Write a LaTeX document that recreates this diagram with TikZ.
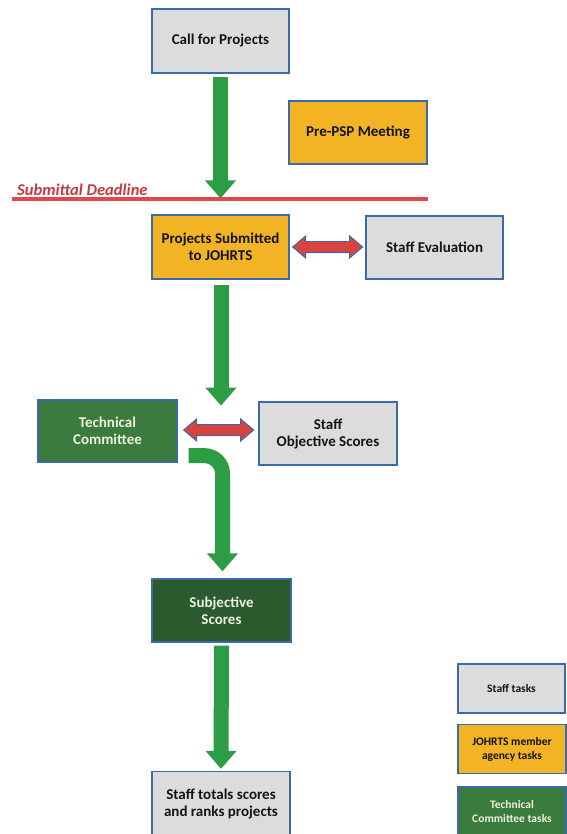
\documentclass[tikz,border=0pt]{standalone}
\usepackage{fontspec}
\setmainfont{Carlito}
\usetikzlibrary{arrows.meta,calc}
\definecolor{boxgray}{HTML}{DCDCDC}
\definecolor{boxblue}{HTML}{3A6AA8}
\definecolor{boxorange}{HTML}{F2B325}
\definecolor{tcgreen}{HTML}{3B7B3D}
\definecolor{ssgreen}{HTML}{2B5A2F}
\definecolor{arrgreen}{HTML}{2C9C45}
\definecolor{arrred}{HTML}{D9433F}
\definecolor{lineRed}{HTML}{E2474A}
\definecolor{lighttext}{HTML}{EEF2DC}
\tikzset{
  box/.style={draw=boxblue, line width=1.3pt, align=center, font=\bfseries\fontsize{15}{17}\selectfont, inner sep=2pt},
  graybox/.style={box, fill=boxgray, text=black!92},
  orangebox/.style={box, fill=boxorange, text=black!92},
  greenbox/.style={box, fill=tcgreen, text=lighttext},
  legend/.style={font=\bfseries\fontsize{11.5}{14}\selectfont},
  garrow/.style={draw=arrgreen, line width=15pt, -{Triangle[width=30pt,length=18pt]}},
  rarrow/.style={fill=arrred, draw=boxblue, line width=1pt, line join=miter},
}
\begin{document}
\begin{tikzpicture}[x=1pt,y=-1pt]
\useasboundingbox (0,0) rectangle (566,834);
\node[graybox, minimum width=137pt, minimum height=64pt] (cfp) at (220.5,41) {Call for Projects};
\node[orangebox, minimum width=138pt, minimum height=63pt] (pre) at (358,132.5) {Pre-PSP Meeting};
\node[orangebox, minimum width=137pt, minimum height=64pt] (ps) at (220.5,247) {Projects Submitted\\to JOHRTS};
\node[graybox, minimum width=137pt, minimum height=63pt] (se) at (434.5,247.5) {Staff Evaluation};
\node[greenbox, minimum width=139pt, minimum height=62pt] (tc) at (107.5,431) {Technical\\Committee};
\node[graybox, minimum width=138pt, minimum height=63pt] (sos) at (328,433.5) {Staff\\Objective Scores};
\node[greenbox, fill=ssgreen, minimum width=139pt, minimum height=63pt] (ss) at (221.5,610.5) {Subjective\\Scores};
\node[graybox, minimum width=138pt, minimum height=64pt] (st) at (221,803.5) {Staff totals scores\\and ranks projects};
% legend
\node[graybox, legend, minimum width=107pt, minimum height=49pt] (l1) at (511.5,688.5) {Staff tasks};
\node[orangebox, legend, minimum width=108pt, minimum height=49pt] (l2) at (512,749) {JOHRTS member\\agency tasks};
\node[greenbox, legend, minimum width=108pt, minimum height=48pt] (l3) at (512,811) {Technical\\Committee tasks};
% submittal deadline
\coordinate (dl1) at (12,199);
\coordinate (dl2) at (428,199);
\draw[lineRed, line width=4pt] (dl1) -- (dl2);
\node[anchor=south west, inner sep=0pt, text=lineRed!85!black, font=\bfseries\itshape\fontsize{16.5}{18}\selectfont] (sdl) at (17,196) {Submittal Deadline};
% green arrows
\draw[garrow] ($(cfp.south)+(0,3)$) -- ($(ps.north)+(0,-16)$);
\coordinate (m2) at ($(ps.south)+(0.5,126)$);
\draw[garrow] ($(ps.south)+(0.5,5)$) -- (m2);
\coordinate (c3) at ($(tc.south east)+(11,-7)$);
\coordinate (c3e) at ($(ss.north)+(1,-7)$);
\draw[garrow, rounded corners=18pt] (c3) -| (c3e);
\draw[garrow] ($(ss.south)+(0,3)$) -- ($(st.north)+(0,-2)$);
% red double arrows
\draw[rarrow] ($(ps.east)+(3,0)$) -- ++(13,-11) -- ++(0,5.5) -- ++(44,0) -- ++(0,-5.5) -- ++(13,11) -- ++(-13,11) -- ++(0,-5.5) -- ++(-44,0) -- ++(0,5.5) -- cycle;
\draw[rarrow] ($(tc.east)+(6,-1)$) -- ++(13,-11) -- ++(0,5.5) -- ++(44,0) -- ++(0,-5.5) -- ++(13,11) -- ++(-13,11) -- ++(0,-5.5) -- ++(-44,0) -- ++(0,5.5) -- cycle;
\end{tikzpicture}
\end{document}
